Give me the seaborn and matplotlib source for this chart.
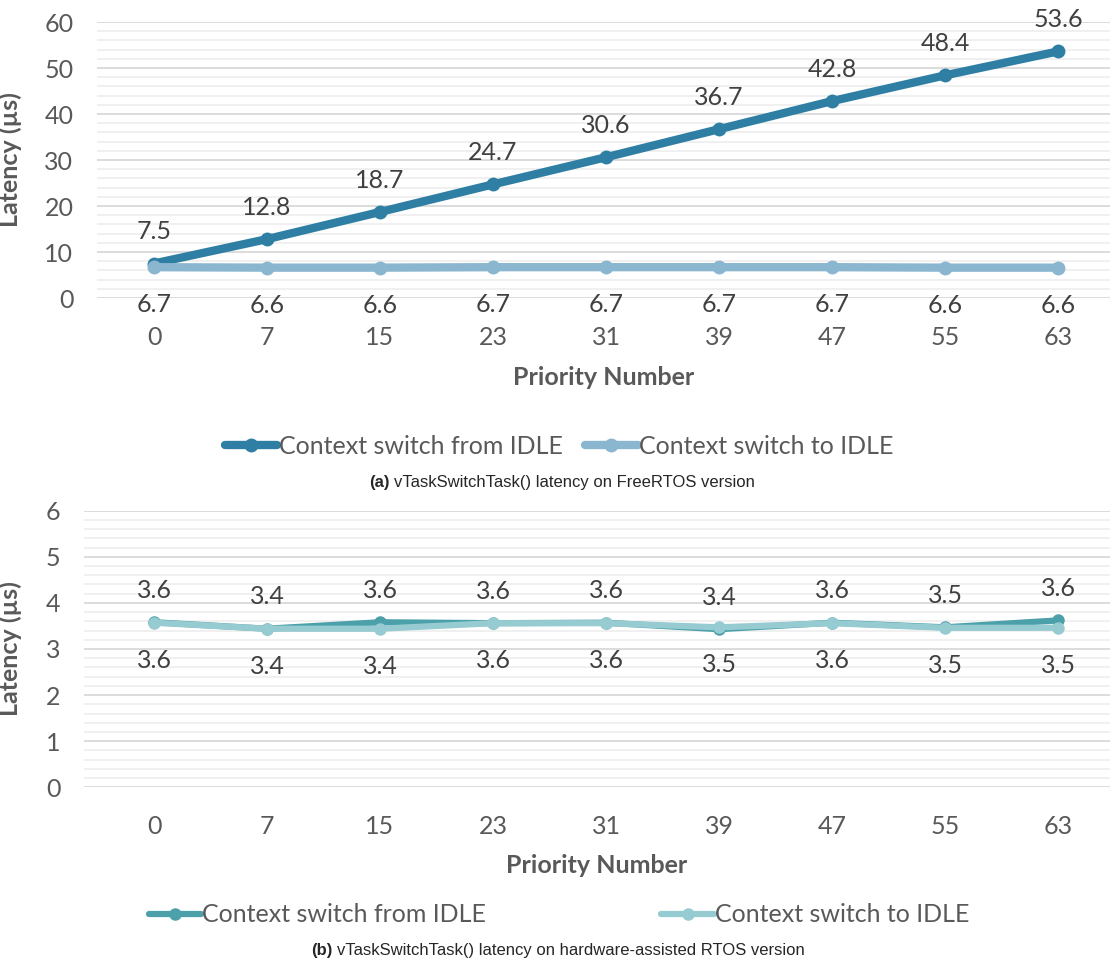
import numpy as np
import pandas as pd
import matplotlib
matplotlib.use("Agg")
import matplotlib.pyplot as plt
from matplotlib.ticker import MultipleLocator
from matplotlib.lines import Line2D
import seaborn as sns

# ---------------- data ----------------
priorities = ["0", "7", "15", "23", "31", "39", "47", "55", "63"]
series_names = ["Context switch from IDLE", "Context switch to IDLE"]
freertos_from = [7.5, 12.8, 18.7, 24.7, 30.6, 36.7, 42.8, 48.4, 53.6]
freertos_to = [6.7, 6.6, 6.6, 6.7, 6.7, 6.7, 6.7, 6.6, 6.6]
hw_from = [3.58, 3.44, 3.58, 3.56, 3.57, 3.43, 3.57, 3.47, 3.62]
hw_to = [3.57, 3.44, 3.44, 3.56, 3.56, 3.47, 3.56, 3.46, 3.46]
x_title = "Priority Number"
y_title = "Latency (µs)"
caption_a = ("(a)", "vTaskSwitchTask() latency on FreeRTOS version")
caption_b = ("(b)", "vTaskSwitchTask() latency on hardware-assisted RTOS version")

sns.set_theme(style="white")
plt.rcParams["font.family"] = ["Lato", "DejaVu Sans"]

W, H = 1110, 965
fig = plt.figure(figsize=(W / 100, H / 100), dpi=100)

X0, DX = 154.0, 113.0  # pixel position of first category and spacing
TICK_C = "#595959"
LABEL_C = "#404040"
FS = 18
CAP_FAMILY = ["Liberation Sans Narrow", "Liberation Sans", "DejaVu Sans"]


def axes_rect(left, right, top, bottom):
    return [left / W, 1 - bottom / H, (right - left) / W, (bottom - top) / H]


def panel(rect_px, vals_from, vals_to, colors, ymax, major, minor, lw, ms,
          legend_y, legend_colspace, caption, cap_x, cap_y, xlabel_top):
    left, right, top, bottom = rect_px
    ax = fig.add_axes(axes_rect(left, right, top, bottom))
    n = len(priorities)
    df = pd.DataFrame({
        "pos": np.tile(np.arange(n), 2),
        "value": list(vals_from) + list(vals_to),
        "series": np.repeat(series_names, n),
    })
    sns.lineplot(data=df, x="pos", y="value", hue="series",
                 hue_order=series_names, palette=colors, marker="o",
                 markersize=ms, markeredgewidth=0, linewidth=lw,
                 sort=False, legend=False, ax=ax)
    ax.set_xlim((left - X0) / DX, (right - X0) / DX)
    ax.set_ylim(0, ymax)
    ax.set_xticks(np.arange(n))
    ax.set_xticklabels(priorities)
    ax.yaxis.set_major_locator(MultipleLocator(major))
    ax.yaxis.set_minor_locator(MultipleLocator(minor))
    ax.grid(False)
    ax.grid(which="minor", axis="y", color="#EFEFEF", linewidth=1.3, zorder=0)
    ax.grid(which="major", axis="y", color="#D9D9D9", linewidth=1.3, zorder=0)
    ax.set_axisbelow(True)
    for s in ax.spines.values():
        s.set_visible(False)
    ax.tick_params(which="both", length=0)
    ax.tick_params(axis="x", pad=20, labelsize=FS, labelcolor=TICK_C)
    ax.tick_params(axis="y", pad=17, labelsize=FS, labelcolor=TICK_C)
    ax.set_xlabel(x_title, fontsize=FS, fontweight="bold", color=TICK_C)
    ax.set_ylabel(y_title, fontsize=FS, fontweight="bold", color=TICK_C)
    wpx = right - left
    hpx = bottom - top
    ax.yaxis.set_label_coords((22 - left) / wpx, 0.5)
    ax.xaxis.set_label_coords(0.5, -(xlabel_top - bottom) / hpx)
    # data labels
    for i, v in enumerate(vals_from):
        ax.annotate(f"{v:.1f}", (i, v), xytext=(0, 23), textcoords="offset points",
                    ha="center", va="center", fontsize=FS, color=LABEL_C)
    for i, v in enumerate(vals_to):
        ax.annotate(f"{v:.1f}", (i, v), xytext=(0, -27), textcoords="offset points",
                    ha="center", va="center", fontsize=FS, color=LABEL_C)
    # legend
    handles = [Line2D([], [], color=c, lw=lw, marker="o", markersize=ms,
                      markeredgewidth=0) for c in colors]
    fig.legend(handles, series_names, loc="center",
               bbox_to_anchor=(559 / W, 1 - legend_y / H), ncol=2, frameon=False,
               fontsize=FS, labelcolor=TICK_C, handlelength=2.1,
               handletextpad=0.05, columnspacing=legend_colspace, numpoints=1)
    # caption
    fig.text(cap_x / W, 1 - cap_y / H, caption[0], ha="right", va="center",
             fontsize=12, fontweight="bold", family=CAP_FAMILY)
    fig.text((cap_x + 4) / W, 1 - cap_y / H, caption[1], ha="left", va="center",
             fontsize=12, family=CAP_FAMILY)
    return ax


ax1 = panel((97, 1110, 22, 298), freertos_from, freertos_to,
            ["#2E7FA3", "#8BB6CF"], 60, 10, 2, 6.0, 10,
            446, 0.9, caption_a, 390, 483, 366)

ax2 = panel((84, 1110, 510.7, 787.3), hw_from, hw_to,
            ["#4BA0A9", "#96CBD1"], 6, 1, 0.2, 4.5, 9,
            915, 7.0, caption_b, 333, 950, 854)

fig.savefig("out.png", dpi=100, facecolor="white")
